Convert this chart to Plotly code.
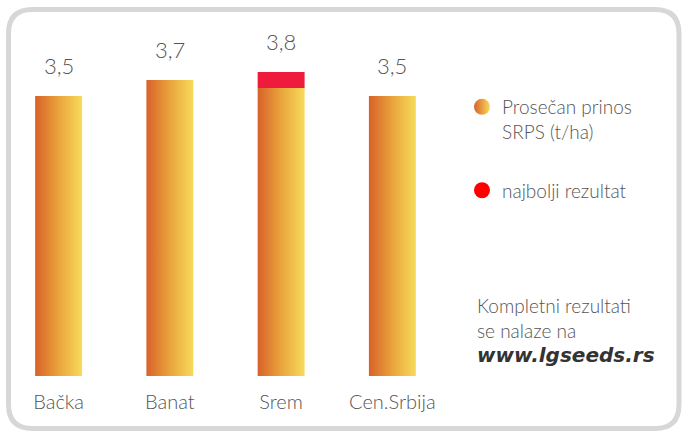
import plotly.graph_objects as go

# Prosečan prinos po regionima (t/ha)
regioni = ["Bačka", "Banat", "Srem", "Cen.Srbija"]
prosek = [3.5, 3.7, 3.6, 3.5]
najbolji = [None, None, 3.8, None]

W, H = 684, 434
FONT = "Lato Light, Roboto Light, Lato"
GRAY = "#555555"
GRAD = [[0.0, "#d8612a"], [0.5, "#e9a43c"], [1.0, "#f7db5b"]]
RED_TOP = "#ee1b3c"
HALF = 0.211  # half bar width in category units


def px(x):
    return x / W


def py(y):
    return 1 - y / H


fig = go.Figure()

for i, (name, v) in enumerate(zip(regioni, prosek)):
    fig.add_trace(go.Scatter(
        x=[i - HALF, i + HALF, i + HALF, i - HALF, i - HALF],
        y=[0, 0, v, v, 0],
        mode="lines", fill="toself", line=dict(width=0),
        fillgradient=dict(type="horizontal", colorscale=GRAD),
        showlegend=False, hoverinfo="skip", name=name,
    ))
    best = najbolji[i]
    if best is not None:
        fig.add_trace(go.Scatter(
            x=[i - HALF, i + HALF, i + HALF, i - HALF, i - HALF],
            y=[v, v, best, best, v],
            mode="lines", fill="toself", line=dict(width=0),
            fillcolor=RED_TOP, showlegend=False, hoverinfo="skip",
        ))
    total = best if best is not None else v
    fig.add_annotation(
        x=i, y=total, xref="x", yref="y",
        text=f"{total:.1f}".replace(".", ","),
        showarrow=False, yanchor="middle", yshift=31,
        font=dict(family=FONT, size=22, color=GRAY, weight=300),
    )

# legend entries
fig.add_trace(go.Scatter(
    x=[None], y=[None], mode="markers", name="Prosečan prinos<br>SRPS (t/ha)",
    legendgroup="a",
    marker=dict(size=16, color="#d8612a",
                gradient=dict(type="horizontal", color="#f7db5b")),
))
fig.add_trace(go.Scatter(
    x=[None], y=[None], mode="markers", name="najbolji rezultat",
    legendgroup="b",
    marker=dict(size=16, color="#ff0000"),
))

# rounded frame
x0, y0, x1, y1, r = 8.5, 9.5, 679, 428.5, 24
pts = [
    ("M", x0 + r, y0), ("L", x1 - r, y0), ("Q", x1, y0, x1, y0 + r),
    ("L", x1, y1 - r), ("Q", x1, y1, x1 - r, y1), ("L", x0 + r, y1),
    ("Q", x0, y1, x0, y1 - r), ("L", x0, y0 + r), ("Q", x0, y0, x0 + r, y0),
]
path = ""
for p in pts:
    cmd, coords = p[0], p[1:]
    pairs = [f"{px(coords[k]):.5f},{py(coords[k + 1]):.5f}" for k in range(0, len(coords), 2)]
    path += cmd + " " + " ".join(pairs) + " "
path += "Z"
fig.add_shape(type="path", path=path, xref="paper", yref="paper",
              line=dict(color="#d6d7d9", width=5), layer="below")

fig.add_annotation(
    x=px(475), y=py(330), xref="paper", yref="paper",
    xanchor="left", yanchor="middle", align="left", showarrow=False,
    text="Kompletni rezultati<br>se nalaze na<br>"
         "<span style='font-family:DejaVu Sans;font-weight:bold;"
         "font-style:italic;color:#333333;font-size:20px'>www.lgseeds.rs</span>",
    font=dict(family=FONT, size=19, color=GRAY, weight=300),
)

fig.update_layout(
    width=W, height=H,
    margin=dict(l=0, r=0, t=0, b=0),
    paper_bgcolor="white", plot_bgcolor="white",
    font=dict(family=FONT, size=19, color=GRAY, weight=300),
    xaxis=dict(
        domain=[px(3), px(448)], range=[-0.5, 3.5],
        tickvals=list(range(len(regioni))), ticktext=regioni,
        showgrid=False, zeroline=False, showline=False, ticks="",
        tickfont=dict(family=FONT, size=20, color=GRAY, weight=300),
        ticklabelstandoff=12,
    ),
    yaxis=dict(
        domain=[py(376), py(56)], range=[0, 4],
        visible=False,
    ),
    legend=dict(
        x=px(462), y=py(88), xanchor="left", yanchor="top",
        valign="top", tracegroupgap=31,
        font=dict(family=FONT, size=19, color=GRAY, weight=300),
        bgcolor="rgba(0,0,0,0)",
    ),
    showlegend=True,
)

fig.write_html("out.html")
